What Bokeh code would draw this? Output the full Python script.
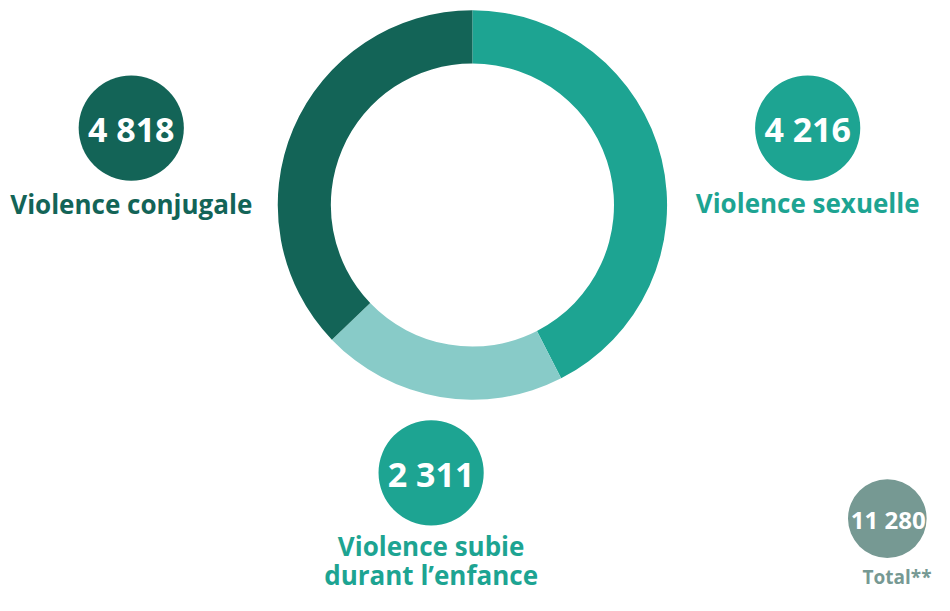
import math
from bokeh.plotting import figure
from bokeh.models import Range1d, ColumnDataSource
from bokeh.core.properties import value
from bokeh.embed import file_html
from bokeh.resources import INLINE

# Donut arcs (clockwise from top), as drawn in the reference
arc_values = [4818, 2311, 4216]
arc_colors = ["#1da492", "#88cbc8", "#136457"]

# Callouts
callout_values = ["4 818", "4 216", "2 311"]
callout_labels = [["Violence conjugale"], ["Violence sexuelle"], ["Violence subie", "durant l\u2019enfance"]]
callout_colors = ["#136457", "#1da492", "#1da492"]
total_value = "11 280"
total_label = "Total**"
total_color = "#769993"

W, H = 934, 595
p = figure(width=W, height=H, output_backend="svg", toolbar_location=None,
           x_range=Range1d(0, 950), y_range=Range1d(-611, 0),
           min_border=0)
p.axis.visible = False
p.grid.visible = False
p.outline_line_color = None
p.background_fill_color = "white"
p.border_fill_color = "white"

FONT = value("Open Sans")

# Donut
cx, cy = 480, -210
tot = sum(arc_values)
starts, ends = [], []
acc = 0
for v in arc_values:
    starts.append(math.pi / 2 - 2 * math.pi * acc / tot)
    acc += v
    ends.append(math.pi / 2 - 2 * math.pi * acc / tot)
src = ColumnDataSource(dict(start=starts, end=ends, color=arc_colors))
p.annular_wedge(x=cx, y=cy, inner_radius=144, outer_radius=198,
                start_angle="start", end_angle="end", direction="clock",
                fill_color="color", line_color=None, source=src)

# Callout positions (pixel coords of circle centres and label lines)
pos = [(133, 131, [209]), (821, 131, [208]), (438, 485, [560, 590])]
for (x, y, ly), val, labs, col in zip(pos, callout_values, callout_labels, callout_colors):
    p.circle(x=[x], y=[-y], radius=53.5, fill_color=col, line_color=None)
    p.text(x=[x], y=[-y - 1], text=[val], text_font=FONT, text_font_style="bold",
           text_font_size="34px", text_color="white", text_align="center",
           text_baseline="middle")
    for lab, yy in zip(labs, ly):
        p.text(x=[x], y=[-yy], text=[lab], text_font=FONT, text_font_style="bold",
               text_font_size="26px", text_color=col, text_align="center",
               text_baseline="middle")

# Total
p.circle(x=[902], y=[-532], radius=40, fill_color=total_color, line_color=None)
p.text(x=[903], y=[-533], text=[total_value], text_font=FONT, text_font_style="bold",
       text_font_size="24px", text_color="white", text_align="center",
       text_baseline="middle")
p.text(x=[947], y=[-592], text=[total_label], text_font=FONT, text_font_style="bold",
       text_font_size="19px", text_color=total_color, text_align="right",
       text_baseline="middle")

open("out.html", "w").write(file_html(p, INLINE))
